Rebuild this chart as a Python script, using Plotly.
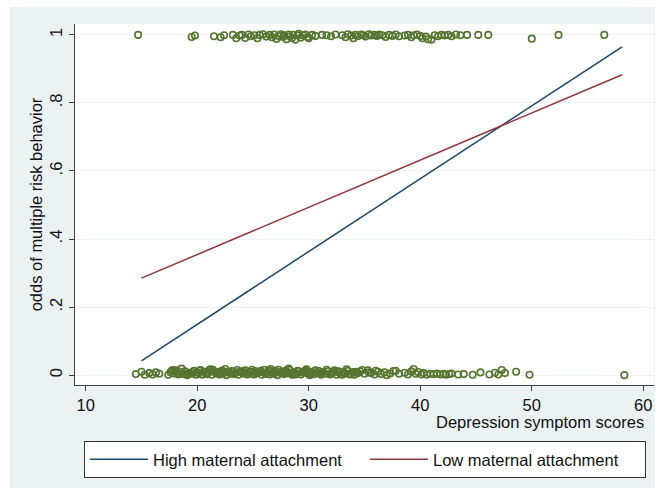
import plotly.graph_objects as go

# ---------------- data ----------------
line_x = [15.0, 58.1]
high_y = [0.042, 0.965]
low_y = [0.285, 0.883]

top_x = [14.7, 19.5, 19.8, 21.5, 22.1, 22.4, 23.2, 23.5, 23.8, 24.0,
         24.3, 24.6, 24.8, 25.1, 25.4, 25.6, 25.9, 26.2, 26.5, 26.7,
         26.9, 27.1, 27.3, 27.5, 27.7, 27.8, 28.0, 28.2, 28.3, 28.5,
         28.6, 28.8, 29.0, 29.1, 29.3, 29.5, 29.7, 29.9, 30.0, 30.3,
         30.6, 31.2, 31.6, 32.0, 32.4, 33.0, 33.3, 33.5, 33.8, 34.0,
         34.2, 34.4, 34.7, 34.9, 35.1, 35.4, 35.6, 35.9, 36.1, 36.3,
         36.6, 36.9, 37.2, 37.5, 37.8, 38.1, 38.6, 38.9, 39.2, 39.4,
         39.7, 40.0, 40.2, 40.5, 40.7, 41.0, 41.3, 41.6, 41.9, 42.2,
         42.5, 42.8, 43.2, 43.6, 44.2, 45.2, 46.1, 50.0, 52.4, 56.5]
top_y = [1.000, 0.994, 0.998, 0.996, 0.993, 0.999, 1.000, 0.990, 0.998, 1.000,
         0.991, 1.001, 0.996, 0.999, 0.990, 1.000, 1.002, 0.995, 1.000, 0.993,
         1.001, 0.988, 0.997, 1.002, 0.994, 0.999, 0.987, 1.001, 0.996, 0.991,
         1.000, 0.986, 0.998, 1.003, 0.992, 0.999, 1.001, 0.994, 0.990, 1.000,
         0.997, 1.000, 0.999, 0.996, 1.001, 0.999, 0.993, 1.002, 0.998, 0.990,
         1.000, 0.996, 1.001, 0.999, 0.995, 1.002, 0.998, 1.000, 0.997, 1.001,
         0.999, 0.994, 1.000, 0.997, 1.001, 0.996, 0.998, 1.000, 0.993, 0.999,
         1.001, 0.997, 0.990, 0.995, 0.987, 0.986, 0.999, 0.996, 1.000, 0.998,
         1.000, 0.996, 1.001, 0.999, 1.000, 1.000, 1.000, 0.989, 1.000, 1.000]

bot_x = [14.5, 15.0, 15.3, 15.7, 16.0, 16.3, 16.6, 17.4, 17.7, 17.9,
         18.1, 18.3, 18.5, 18.7, 18.9, 19.1, 19.3, 19.5, 19.7, 19.9,
         20.1, 20.3, 20.5, 20.6, 20.8, 21.0, 21.2, 21.3, 21.5, 21.7,
         21.9, 22.0, 22.2, 22.4, 22.6, 22.8, 23.0, 23.1, 23.3, 23.5,
         23.7, 23.9, 24.1, 24.3, 24.5, 24.7, 24.8, 25.0, 25.2, 25.4,
         25.6, 25.8, 26.0, 26.1, 26.3, 26.5, 26.7, 26.9, 27.0, 27.2,
         27.4, 27.6, 27.8, 28.0, 28.1, 28.3, 28.5, 28.7, 28.9, 29.1,
         29.3, 29.5, 29.7, 29.9, 30.1, 30.3, 30.5, 30.7, 30.9, 31.1,
         31.3, 31.5, 31.7, 31.9, 32.1, 32.3, 32.5, 32.7, 32.9, 33.1,
         33.3, 33.5, 33.7, 33.9, 34.1, 34.3, 34.6, 35.0, 35.3, 35.6,
         35.9, 36.2, 36.5, 36.8, 37.0, 37.3, 37.6, 38.1, 38.6, 38.9,
         39.2, 39.4, 39.6, 39.8, 40.1, 40.3, 40.6, 40.9, 41.2, 41.5,
         41.8, 42.1, 42.3, 42.6, 42.8, 43.4, 43.9, 44.7, 45.4, 46.2,
         46.7, 47.0, 47.3, 47.6, 48.6, 49.8, 58.3, 24.2, 27.9, 30.0,
         18.0, 19.0, 20.0, 21.1, 22.1, 23.2, 25.1, 26.4, 28.4, 29.6,
         31.0, 32.2, 33.0, 34.4, 36.0, 17.6, 20.9, 22.7, 26.8, 28.8,
         17.8, 18.2, 18.6, 19.2, 19.6, 20.2, 20.4, 21.4, 21.8, 22.3,
         22.5, 23.4, 23.6, 24.0, 24.4, 24.9, 25.3, 25.7, 26.2, 26.6,
         27.1, 27.3, 27.7, 28.2, 28.6, 29.0, 29.4, 29.8, 30.2, 30.6,
         31.2, 31.6, 32.0, 32.6, 33.4, 33.8, 34.2, 34.8, 35.4, 37.8]
bot_y = [0.003, 0.010, 0.001, 0.006, 0.002, 0.008, 0.004, 0.001, 0.012, 0.005,
         0.014, 0.002, 0.009, 0.003, 0.011, 0.000, 0.007, 0.004, 0.013, 0.001,
         0.006, 0.015, 0.002, 0.010, 0.004, 0.008, 0.017, 0.001, 0.011, 0.005,
         0.009, 0.002, 0.013, 0.006, 0.000, 0.010, 0.004, 0.012, 0.003, 0.008,
         0.001, 0.011, 0.005, 0.014, 0.002, 0.007, 0.010, 0.003, 0.012, 0.006,
         0.009, 0.001, 0.016, 0.004, 0.008, 0.002, 0.011, 0.005, 0.013, 0.000,
         0.007, 0.010, 0.003, 0.012, 0.006, 0.015, 0.001, 0.009, 0.004, 0.011,
         0.002, 0.008, 0.013, 0.005, 0.000, 0.010, 0.003, 0.007, 0.012, 0.001,
         0.009, 0.004, 0.011, 0.002, 0.006, 0.014, 0.001, 0.008, 0.003, 0.010,
         0.005, 0.012, 0.002, 0.009, 0.001, 0.007, 0.011, 0.004, 0.014, 0.006,
         0.002, 0.010, 0.003, 0.008, 0.000, 0.005, 0.012, 0.004, 0.007, 0.002,
         0.011, 0.018, 0.004, 0.009, 0.002, 0.006, 0.001, 0.004, 0.003, 0.005,
         0.002, 0.004, 0.001, 0.003, 0.005, 0.002, 0.003, 0.001, 0.008, 0.002,
         0.007, 0.002, 0.015, 0.006, 0.010, 0.001, 0.000, 0.009, 0.013, 0.006,
         0.012, 0.003, 0.008, 0.016, 0.005, 0.010, 0.002, 0.014, 0.007, 0.011,
         0.004, 0.009, 0.001, 0.006, 0.013, 0.008, 0.003, 0.010, 0.005, 0.002,
         0.015, 0.006, 0.019, 0.004, 0.009, 0.013, 0.002, 0.016, 0.007, 0.012,
         0.018, 0.006, 0.015, 0.009, 0.003, 0.016, 0.007, 0.013, 0.004, 0.018,
         0.010, 0.016, 0.006, 0.019, 0.003, 0.013, 0.008, 0.017, 0.005, 0.014,
         0.007, 0.016, 0.005, 0.012, 0.017, 0.003, 0.010, 0.015, 0.008, 0.013]

x_ticks = [10, 20, 30, 40, 50, 60]
y_ticks = [0, 0.2, 0.4, 0.6, 0.8, 1]
y_tick_text = ["0", ".2", ".4", ".6", ".8", "1"]

# ---------------- styling ----------------
W, H = 659, 490
L, R, T, B = 75, 654, 24, 385
FONT = "Liberation Sans, Arial, Helvetica, sans-serif"
FS = 16.5
BG = "#EAF2F3"
OLIVE = "#55752F"
NAVY = "#1A476F"
MAROON = "#90353B"
AXC = "#444444"


def px(x):
    return (x - L) / (R - L)


def py(y):
    return (B - y) / (B - T)


marker = dict(symbol="circle-open", size=6.5, color=OLIVE, line=dict(width=1.6, color=OLIVE))

fig = go.Figure()
fig.add_trace(go.Scatter(x=top_x, y=top_y, mode="markers", showlegend=False,
                         marker=marker, hoverinfo="skip"))
fig.add_trace(go.Scatter(x=bot_x, y=bot_y, mode="markers", showlegend=False,
                         marker=marker, hoverinfo="skip"))
fig.add_trace(go.Scatter(x=line_x, y=high_y, mode="lines", name="High maternal attachment",
                         line=dict(color=NAVY, width=1.5)))
fig.add_trace(go.Scatter(x=line_x, y=low_y, mode="lines", name="Low maternal attachment",
                         line=dict(color=MAROON, width=1.5)))

# white page strips around the bluish graph region
strips = [
    (0, 0, 10, H),      # left
    (0, 0, W, 7),       # top
    (655, 0, W, H),     # right
    (0, 488, W, H),     # bottom
]
for (x0, y0, x1, y1) in strips:
    fig.add_shape(type="rect", xref="paper", yref="paper",
                  x0=px(x0), x1=px(x1), y0=py(y1), y1=py(y0),
                  fillcolor="white", line=dict(width=0), layer="below")

fig.add_annotation(text="Depression symptom scores", xref="paper", yref="paper",
                   x=px(646), y=py(422), xanchor="right", yanchor="middle",
                   showarrow=False, font=dict(family=FONT, size=FS, color="#111"))

fig.update_layout(
    width=W, height=H,
    margin=dict(l=L, r=W - R, t=T, b=H - B, pad=0, autoexpand=False),
    paper_bgcolor=BG, plot_bgcolor="white",
    font=dict(family=FONT, size=FS, color="#111"),
    xaxis=dict(range=[9.04, 60.96], tickvals=x_ticks, ticks="outside", ticklen=5,
               tickcolor=AXC, showgrid=False, zeroline=False, showline=True,
               linecolor=AXC, linewidth=1, tickfont=dict(size=FS)),
    yaxis=dict(range=[-0.029, 1.032], tickvals=y_ticks, ticktext=y_tick_text,
               tickangle=-90, ticks="outside", ticklen=5, tickcolor=AXC,
               showgrid=True, gridcolor=BG, gridwidth=1, zeroline=False,
               showline=True, linecolor=AXC, linewidth=1, tickfont=dict(size=FS),
               title=dict(text="odds of multiple risk behavior", font=dict(size=FS), standoff=0)),
    legend=dict(orientation="h", x=px(84), y=py(441), xanchor="left", yanchor="top",
                bgcolor="white", bordercolor="#333", borderwidth=1,
                entrywidth=207, itemwidth=58, font=dict(family=FONT, size=FS, color="#111")),
)

fig.write_html("out.html")
